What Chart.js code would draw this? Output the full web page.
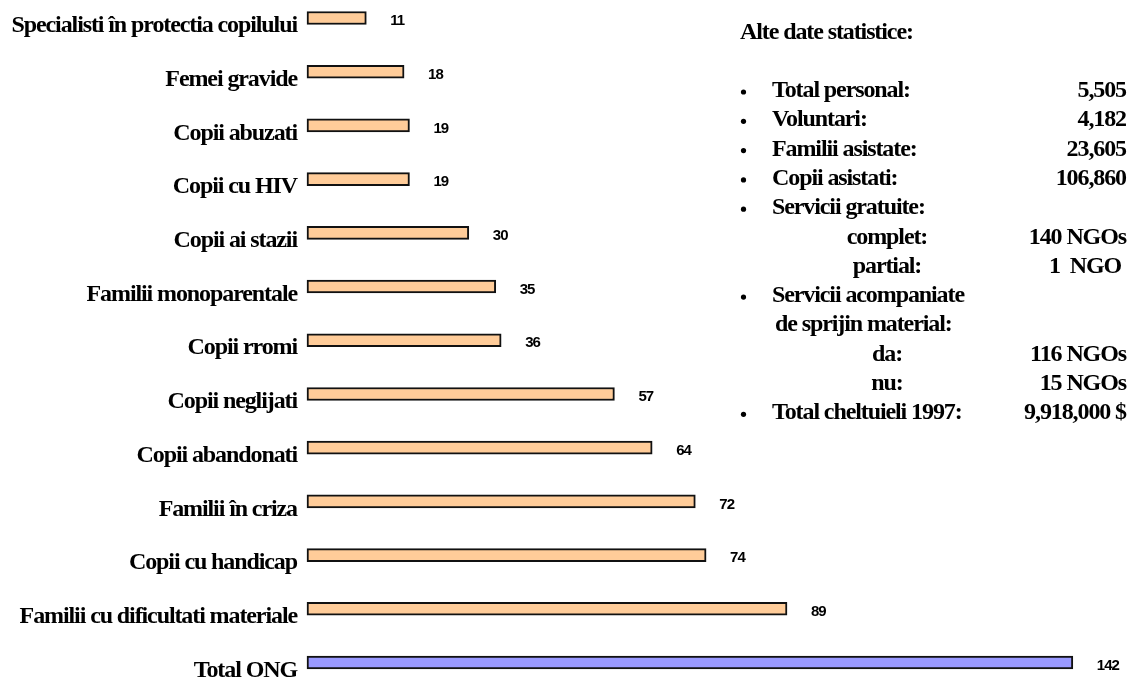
<!DOCTYPE html>
<html lang="ro">
<head>
<meta charset="utf-8">
<title>Grupuri tinta ale ONG-urilor</title>
<script src="https://cdn.jsdelivr.net/npm/chart.js@4/dist/chart.umd.min.js"></script>
<style>
  html, body { margin: 0; padding: 0; background: #ffffff; }
  #wrap { position: relative; width: 1128px; height: 679px; }
</style>
</head>
<body>
<div id="wrap"><canvas id="chart"></canvas></div>
<script>
// Target groups served by NGOs (number of organisations)
const categories = [
  'Specialisti în protectia copilului',
  'Femei gravide',
  'Copii abuzati',
  'Copii cu HIV',
  'Copii ai stazii',
  'Familii monoparentale',
  'Copii rromi',
  'Copii neglijati',
  'Copii abandonati',
  'Familii în criza',
  'Copii cu handicap',
  'Familii cu dificultati materiale',
  'Total ONG'
];
const counts = [11, 18, 19, 19, 30, 35, 36, 57, 64, 72, 74, 89, 142];

// Side panel with other statistics
const statHeading = 'Alte date statistice:';
const statLabels = [
  'Total personal:', 'Voluntari:', 'Familii asistate:', 'Copii asistati:',
  'Servicii gratuite:', 'complet:', 'partial:',
  'Servicii acompaniate', 'de sprijin material:', 'da:', 'nu:',
  'Total cheltuieli 1997:'
];
const statValues = [
  '5,505', '4,182', '23,605', '106,860',
  '', '140 NGOs', '1  NGO ',
  '', '', '116 NGOs', '15 NGOs',
  '9,918,000 $'
];
// 0 = bulleted item, 1 = continuation line, 2 = sub-item
const statLevels = [0, 0, 0, 0, 0, 2, 2, 0, 1, 2, 2, 0];

const SERIF = '"Liberation Serif", "Times New Roman", serif';
const SANS = '"Liberation Sans", Arial, sans-serif';
const barColors = counts.map((v, i) => i === counts.length - 1 ? '#9999ff' : '#ffcc99');

// Tight tracking for all text drawn on the canvas
const trackingPlugin = {
  id: 'tracking',
  beforeDraw(chart) {
    chart.ctx.letterSpacing = '-1.1px';
  }
};

// Numbers to the right of each bar
const valueLabels = {
  id: 'valueLabels',
  afterDatasetsDraw(chart) {
    const ctx = chart.ctx;
    const meta = chart.getDatasetMeta(0);
    ctx.save();
    ctx.letterSpacing = '-1px';
    ctx.font = 'bold 15px ' + SANS;
    ctx.fillStyle = '#000';
    ctx.textAlign = 'left';
    ctx.textBaseline = 'middle';
    meta.data.forEach((bar, i) => {
      ctx.fillText(String(counts[i]), bar.x + 24, bar.y + 3);
    });
    ctx.restore();
  }
};

// Statistics text block on the right
const statsPanel = {
  id: 'statsPanel',
  afterDraw(chart) {
    const ctx = chart.ctx;
    ctx.save();
    ctx.letterSpacing = '-1.1px';
    ctx.font = 'bold 24px ' + SERIF;
    ctx.fillStyle = '#000';
    ctx.textBaseline = 'alphabetic';
    ctx.textAlign = 'left';
    ctx.fillText(statHeading, 740, 39);
    const top = 97, step = 29.3;
    statLabels.forEach((label, i) => {
      const y = top + i * step;
      const level = statLevels[i];
      if (level === 0) {
        ctx.beginPath();
        ctx.arc(743.5, y - 5, 2.6, 0, Math.PI * 2);
        ctx.fill();
        ctx.textAlign = 'left';
        ctx.fillText(label, 772, y);
      } else if (level === 1) {
        ctx.textAlign = 'left';
        ctx.fillText(label, 775, y);
      } else {
        ctx.textAlign = 'center';
        ctx.fillText(label, 887, y);
      }
      if (statValues[i]) {
        ctx.textAlign = 'right';
        ctx.fillText(statValues[i], 1126, y);
      }
    });
    ctx.restore();
  }
};

new Chart(document.getElementById('chart'), {
  type: 'bar',
  data: {
    labels: categories,
    datasets: [{
      data: counts,
      backgroundColor: barColors,
      borderColor: '#111111',
      borderWidth: 2,
      borderSkipped: false,
      barThickness: 13,
      clip: false
    }]
  },
  options: {
    indexAxis: 'y',
    responsive: true,
    maintainAspectRatio: false,
    animation: false,
    layout: { padding: { top: 18, bottom: 16.5, left: 0, right: 12 } },
    plugins: {
      legend: { display: false },
      tooltip: { enabled: false }
    },
    scales: {
      x: {
        display: false,
        min: 0,
        max: 150
      },
      y: {
        offset: false,
        grid: { display: false, drawTicks: false },
        border: { display: false },
        afterFit(scale) {
          scale.width = 307;
          scale.paddingTop = 0;
          scale.paddingBottom = 0;
        },
        ticks: {
          padding: 10,
          labelOffset: 8,
          autoSkip: false,
          color: '#000',
          font: { family: SERIF, size: 24, weight: 'bold' }
        }
      }
    }
  },
  plugins: [trackingPlugin, valueLabels, statsPanel]
});
</script>
</body>
</html>
